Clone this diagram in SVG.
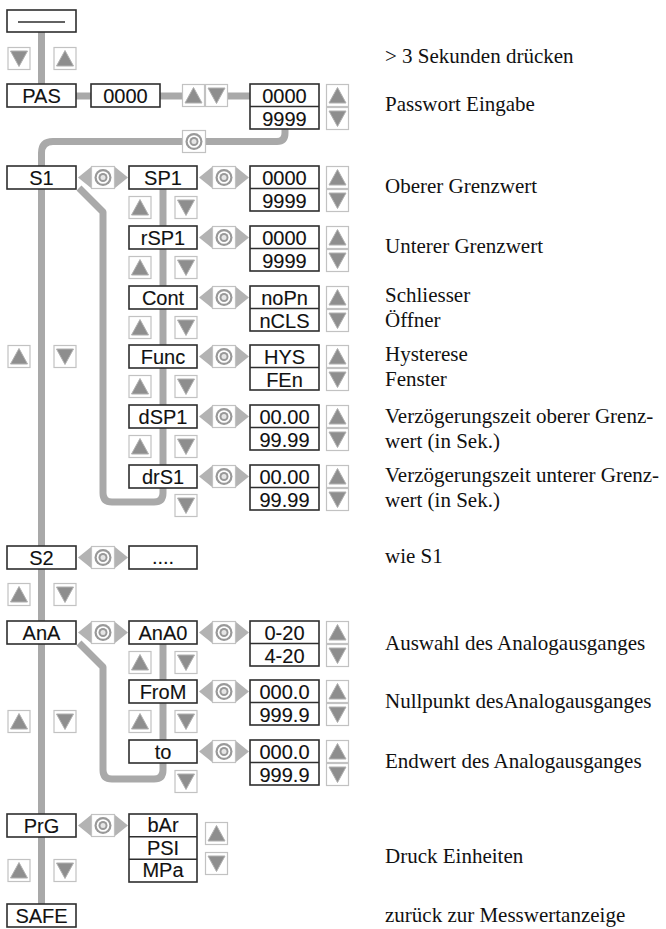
<svg xmlns="http://www.w3.org/2000/svg" xmlns:xlink="http://www.w3.org/1999/xlink" width="666" height="929" viewBox="0 0 666 929">
  <style>
    .box { fill: #fff; stroke: #2e2e2e; stroke-width: 1.6; }
    .div { stroke: #2e2e2e; stroke-width: 1.4; }
    .lbl { font-family: "Liberation Sans", Arial, sans-serif; font-size: 20px; text-anchor: middle; fill: #111; stroke: #111; stroke-width: 0.12; }
    .note { font-family: "Liberation Serif", "Times New Roman", serif; font-size: 21px; fill: #111; }
    .wire { fill: none; stroke: #a9a9a9; stroke-width: 7; stroke-linejoin: round; }
    .btn { fill: #fff; stroke: #c2c2c2; stroke-width: 1.2; }
    .tri { fill: #8e8e8e; stroke: #b0b0b0; stroke-width: 1; stroke-linejoin: round; }
    .nav { fill: #b3b3b3; }
  </style>
  <defs>
    <!-- arrow key, up -->
    <g id="up">
      <rect class="btn" x="0.5" y="0.5" width="22" height="22"/>
      <polygon class="tri" points="3,19 11.5,3.5 20,19"/>
    </g>
    <!-- arrow key, down -->
    <g id="dn">
      <rect class="btn" x="0.5" y="0.5" width="22" height="22"/>
      <polygon class="tri" points="3,4 20,4 11.5,19.5"/>
    </g>
    <!-- enter key -->
    <g id="ok">
      <rect class="btn" x="0.5" y="0.5" width="23" height="22"/>
      <circle cx="12" cy="11.5" r="8.5" fill="#999"/>
      <circle cx="12" cy="11.5" r="6.3" fill="#fff"/>
      <circle cx="12" cy="11.5" r="4.5" fill="#999"/>
      <circle cx="12" cy="11.5" r="2.5" fill="#e6e6e6"/>
    </g>
    <!-- two-way arrow with enter key -->
    <g id="nav">
      <rect class="nav" x="10" y="7.5" width="30" height="8"/>
      <polygon class="nav" points="0,11.5 13,1 13,22"/>
      <polygon class="nav" points="50,11.5 37,1 37,22"/>
      <use xlink:href="#ok" x="13" y="0"/>
    </g>
    <!-- up/down pair stacked beside a value box -->
    <g id="updn">
      <use xlink:href="#up" x="0" y="0"/>
      <use xlink:href="#dn" x="0" y="23"/>
    </g>
  </defs>

  <!-- connectors -->
  <g id="connectors">
    <line class="wire" x1="41.5" y1="32" x2="41.5" y2="84"/>
    <line class="wire" x1="76" y1="96" x2="250" y2="96" stroke-width="8"/>
    <path class="wire" d="M285,129 V133 Q285,141.5 277,141.5 H53 Q41.5,141.5 41.5,153 V904"/>
    <path class="wire" d="M79,188 L103,212 V493 Q103,502 112,502 H154 Q163,502 163,493 V189"/>
    <path class="wire" d="M79,643 L103,667 V770 Q103,779 112,779 H154 Q163,779 163,770 V644"/>
  </g>

  <!-- display, idle -->
  <g id="idle">
    <rect class="box" x="7" y="10" width="69" height="22"/>
    <line class="div" x1="18" y1="22" x2="65" y2="22" stroke-width="1.8"/>
    <use xlink:href="#dn" x="7.5" y="47"/>
    <use xlink:href="#up" x="53.5" y="47"/>
  </g>

  <!-- password -->
  <g id="pas">
    <rect class="box" x="7" y="84" width="69" height="23"/>
    <text class="lbl" x="41.5" y="103">PAS</text>
  </g>
  <g id="pas-entry">
    <rect class="box" x="91" y="84" width="69" height="23"/>
    <text class="lbl" x="125.5" y="103">0000</text>
  </g>
  <g id="pas-keys">
    <use xlink:href="#up" x="182" y="84"/>
    <use xlink:href="#dn" x="205" y="84"/>
  </g>
  <g id="pas-range">
    <rect class="box" x="250" y="84" width="69" height="45"/>
    <line class="div" x1="250" y1="106.5" x2="319" y2="106.5"/>
    <text class="lbl" x="284.5" y="103">0000</text>
    <text class="lbl" x="284.5" y="125.5">9999</text>
    <use xlink:href="#updn" x="326" y="84"/>
  </g>
  <g id="pas-ok">
    <use xlink:href="#ok" x="182" y="130"/>
  </g>

  <!-- S1 -->
  <g id="s1">
    <rect class="box" x="7" y="166" width="69" height="23"/>
    <text class="lbl" x="41.5" y="185">S1</text>
    <use xlink:href="#nav" x="78" y="166"/>
    <use xlink:href="#up" x="7.5" y="345"/>
    <use xlink:href="#dn" x="53.5" y="345"/>
  </g>

  <g id="sp1">
    <rect class="box" x="129" y="166" width="68" height="23"/>
    <text class="lbl" x="163" y="185">SP1</text>
    <use xlink:href="#nav" x="199" y="166"/>
    <rect class="box" x="250" y="166" width="69" height="45"/>
    <line class="div" x1="250" y1="188.5" x2="319" y2="188.5"/>
    <text class="lbl" x="284.5" y="185">0000</text>
    <text class="lbl" x="284.5" y="207.5">9999</text>
    <use xlink:href="#updn" x="326" y="166"/>
    <use xlink:href="#up" x="128.5" y="196"/>
    <use xlink:href="#dn" x="174.5" y="196"/>
  </g>

  <g id="rsp1">
    <rect class="box" x="129" y="226" width="68" height="23"/>
    <text class="lbl" x="163" y="245">rSP1</text>
    <use xlink:href="#nav" x="199" y="226"/>
    <rect class="box" x="250" y="226" width="69" height="45"/>
    <line class="div" x1="250" y1="248.5" x2="319" y2="248.5"/>
    <text class="lbl" x="284.5" y="245">0000</text>
    <text class="lbl" x="284.5" y="267.5">9999</text>
    <use xlink:href="#updn" x="326" y="226"/>
    <use xlink:href="#up" x="128.5" y="256"/>
    <use xlink:href="#dn" x="174.5" y="256"/>
  </g>

  <g id="cont">
    <rect class="box" x="129" y="286" width="68" height="23"/>
    <text class="lbl" x="163" y="305">Cont</text>
    <use xlink:href="#nav" x="199" y="286"/>
    <rect class="box" x="250" y="286" width="69" height="45"/>
    <line class="div" x1="250" y1="308.5" x2="319" y2="308.5"/>
    <text class="lbl" x="284.5" y="305">noPn</text>
    <text class="lbl" x="284.5" y="327.5">nCLS</text>
    <use xlink:href="#updn" x="326" y="286"/>
    <use xlink:href="#up" x="128.5" y="316"/>
    <use xlink:href="#dn" x="174.5" y="316"/>
  </g>

  <g id="func">
    <rect class="box" x="129" y="345" width="68" height="23"/>
    <text class="lbl" x="163" y="364">Func</text>
    <use xlink:href="#nav" x="199" y="345"/>
    <rect class="box" x="250" y="345" width="69" height="45"/>
    <line class="div" x1="250" y1="367.5" x2="319" y2="367.5"/>
    <text class="lbl" x="284.5" y="364">HYS</text>
    <text class="lbl" x="284.5" y="386.5">FEn</text>
    <use xlink:href="#updn" x="326" y="345"/>
    <use xlink:href="#up" x="128.5" y="375"/>
    <use xlink:href="#dn" x="174.5" y="375"/>
  </g>

  <g id="dsp1">
    <rect class="box" x="129" y="405" width="68" height="23"/>
    <text class="lbl" x="163" y="424">dSP1</text>
    <use xlink:href="#nav" x="199" y="405"/>
    <rect class="box" x="250" y="405" width="69" height="45"/>
    <line class="div" x1="250" y1="427.5" x2="319" y2="427.5"/>
    <text class="lbl" x="284.5" y="424">00.00</text>
    <text class="lbl" x="284.5" y="446.5">99.99</text>
    <use xlink:href="#updn" x="326" y="405"/>
    <use xlink:href="#up" x="128.5" y="435"/>
    <use xlink:href="#dn" x="174.5" y="435"/>
  </g>

  <g id="drs1">
    <rect class="box" x="129" y="465" width="68" height="23"/>
    <text class="lbl" x="163" y="484">drS1</text>
    <use xlink:href="#nav" x="199" y="465"/>
    <rect class="box" x="250" y="465" width="69" height="45"/>
    <line class="div" x1="250" y1="487.5" x2="319" y2="487.5"/>
    <text class="lbl" x="284.5" y="484">00.00</text>
    <text class="lbl" x="284.5" y="506.5">99.99</text>
    <use xlink:href="#updn" x="326" y="465"/>
    <use xlink:href="#dn" x="174.5" y="494"/>
  </g>

  <!-- S2 -->
  <g id="s2">
    <rect class="box" x="7" y="546" width="69" height="23"/>
    <text class="lbl" x="41.5" y="565">S2</text>
    <use xlink:href="#nav" x="78" y="546"/>
    <rect class="box" x="129" y="546" width="68" height="23"/>
    <text class="lbl" x="163" y="564" font-size="17">....</text>
    <use xlink:href="#up" x="7.5" y="583"/>
    <use xlink:href="#dn" x="53.5" y="583"/>
  </g>

  <!-- analogue output -->
  <g id="ana">
    <rect class="box" x="7" y="621" width="69" height="23"/>
    <text class="lbl" x="41.5" y="640">AnA</text>
    <use xlink:href="#nav" x="78" y="621"/>
    <use xlink:href="#up" x="7.5" y="710"/>
    <use xlink:href="#dn" x="53.5" y="710"/>
  </g>

  <g id="ana0">
    <rect class="box" x="129" y="621" width="68" height="23"/>
    <text class="lbl" x="163" y="640">AnA0</text>
    <use xlink:href="#nav" x="199" y="621"/>
    <rect class="box" x="250" y="621" width="69" height="45"/>
    <line class="div" x1="250" y1="643.5" x2="319" y2="643.5"/>
    <text class="lbl" x="284.5" y="640">0-20</text>
    <text class="lbl" x="284.5" y="662.5">4-20</text>
    <use xlink:href="#updn" x="326" y="621"/>
    <use xlink:href="#up" x="128.5" y="651"/>
    <use xlink:href="#dn" x="174.5" y="651"/>
  </g>

  <g id="from">
    <rect class="box" x="129" y="680" width="68" height="23"/>
    <text class="lbl" x="163" y="699">FroM</text>
    <use xlink:href="#nav" x="199" y="680"/>
    <rect class="box" x="250" y="680" width="69" height="45"/>
    <line class="div" x1="250" y1="702.5" x2="319" y2="702.5"/>
    <text class="lbl" x="284.5" y="699">000.0</text>
    <text class="lbl" x="284.5" y="721.5">999.9</text>
    <use xlink:href="#updn" x="326" y="680"/>
    <use xlink:href="#up" x="128.5" y="710"/>
    <use xlink:href="#dn" x="174.5" y="710"/>
  </g>

  <g id="to">
    <rect class="box" x="129" y="740" width="68" height="23"/>
    <text class="lbl" x="163" y="759">to</text>
    <use xlink:href="#nav" x="199" y="740"/>
    <rect class="box" x="250" y="740" width="69" height="45"/>
    <line class="div" x1="250" y1="762.5" x2="319" y2="762.5"/>
    <text class="lbl" x="284.5" y="759">000.0</text>
    <text class="lbl" x="284.5" y="781.5">999.9</text>
    <use xlink:href="#updn" x="326" y="740"/>
    <use xlink:href="#dn" x="174.5" y="770"/>
  </g>

  <!-- pressure unit -->
  <g id="prg">
    <rect class="box" x="7" y="814" width="69" height="23"/>
    <text class="lbl" x="41.5" y="833">PrG</text>
    <use xlink:href="#nav" x="78" y="814"/>
    <rect class="box" x="129" y="814" width="68" height="68"/>
    <line class="div" x1="129" y1="836.7" x2="197" y2="836.7"/>
    <line class="div" x1="129" y1="859.3" x2="197" y2="859.3"/>
    <text class="lbl" x="163" y="832">bAr</text>
    <text class="lbl" x="163" y="855">PSI</text>
    <text class="lbl" x="163" y="877">MPa</text>
    <use xlink:href="#up" x="205" y="822"/>
    <use xlink:href="#dn" x="205" y="852"/>
    <use xlink:href="#up" x="7.5" y="859"/>
    <use xlink:href="#dn" x="53.5" y="859"/>
  </g>

  <g id="safe">
    <rect class="box" x="7" y="904" width="69" height="23"/>
    <text class="lbl" x="41.5" y="923">SAFE</text>
  </g>

  <!-- descriptions -->
  <g id="notes">
    <text class="note" x="385" y="63">&gt; 3 Sekunden drücken</text>
    <text class="note" x="385" y="111">Passwort Eingabe</text>
    <text class="note" x="385" y="193">Oberer Grenzwert</text>
    <text class="note" x="385" y="253">Unterer Grenzwert</text>
    <text class="note" x="385" y="302">Schliesser</text>
    <text class="note" x="385" y="327">Öffner</text>
    <text class="note" x="385" y="361">Hysterese</text>
    <text class="note" x="385" y="386">Fenster</text>
    <text class="note" x="385" y="423">Verzögerungszeit oberer Grenz-</text>
    <text class="note" x="385" y="448">wert (in Sek.)</text>
    <text class="note" x="385" y="482">Verzögerungszeit unterer Grenz-</text>
    <text class="note" x="385" y="507">wert (in Sek.)</text>
    <text class="note" x="385" y="563">wie S1</text>
    <text class="note" x="385" y="650">Auswahl des Analogausganges</text>
    <text class="note" x="385" y="708">Nullpunkt desAnalogausganges</text>
    <text class="note" x="385" y="768">Endwert des Analogausganges</text>
    <text class="note" x="385" y="863">Druck Einheiten</text>
    <text class="note" x="385" y="922">zurück zur Messwertanzeige</text>
  </g>
</svg>
